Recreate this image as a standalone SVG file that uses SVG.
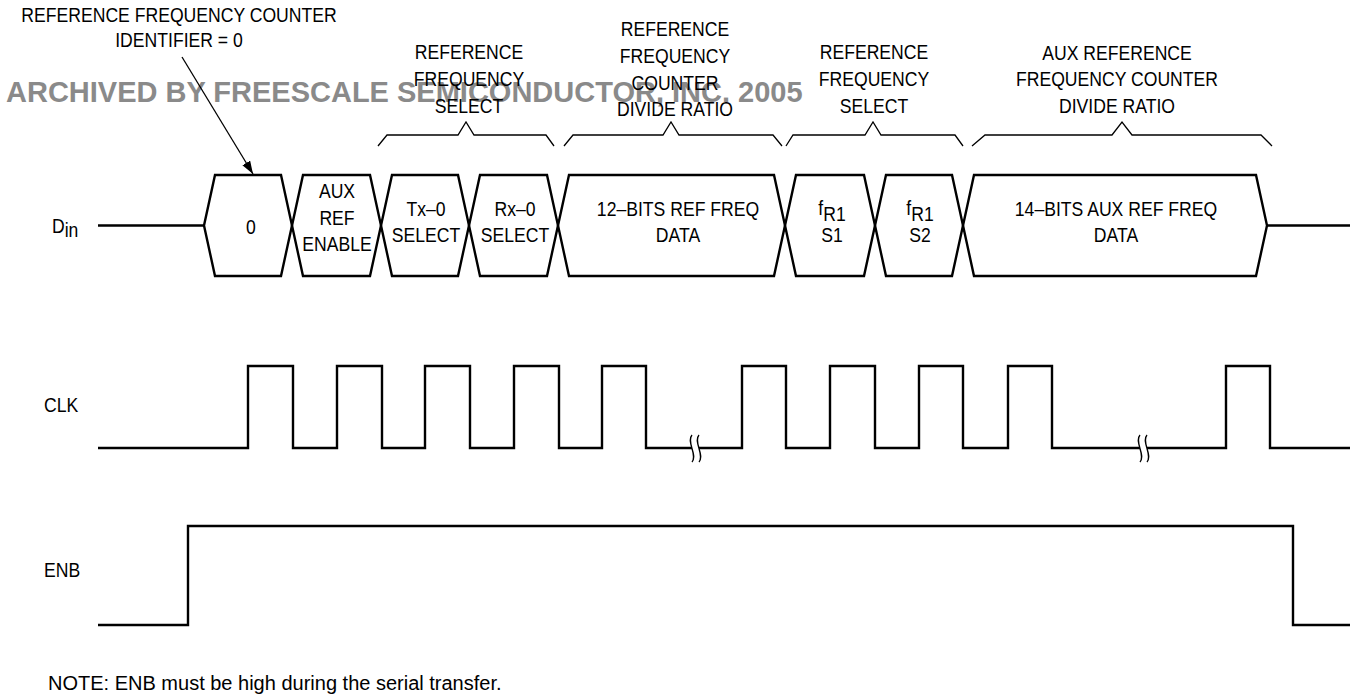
<svg xmlns="http://www.w3.org/2000/svg" width="1356" height="698" viewBox="0 0 1356 698">
<style>
.t{font-family:"Liberation Sans",Arial,Helvetica,sans-serif;font-size:20px;fill:#000}
.wm{font-family:"Liberation Sans",Arial,Helvetica,sans-serif;font-size:29px;font-weight:bold;fill:#8a8a8a}
.note{font-family:"Liberation Sans",Arial,Helvetica,sans-serif;font-size:20px;fill:#000}
.bus{fill:none;stroke:#000;stroke-width:2.4;stroke-linejoin:miter}
.wave{fill:none;stroke:#000;stroke-width:2.4}
.br{fill:none;stroke:#000;stroke-width:1.3}
.brk{fill:none;stroke:#000;stroke-width:1.3}
</style>
<defs>
<marker id="ah" markerUnits="userSpaceOnUse" markerWidth="14" markerHeight="10" refX="13" refY="4.5" orient="auto">
<path d="M0,0 L13,4.5 L0,9 z" fill="#000"/>
</marker>
</defs>
<rect width="1356" height="698" fill="#fff"/>

<text class="wm" x="6" y="102">ARCHIVED BY FREESCALE SEMICONDUCTOR, INC. 2005</text>

<g id="labels-left">
<text class="t" transform="translate(52,0) scale(.88 1)"><tspan x="0" y="233">D</tspan><tspan dy="4.5">in</tspan></text>
<text class="t" transform="translate(44,0) scale(.88 1)" x="0" y="412">CLK</text>
<text class="t" transform="translate(44,0) scale(.88 1)" x="0" y="577">ENB</text>
</g>

<g id="lbl-identifier">
<text class="t" text-anchor="middle" transform="translate(179,0) scale(.88 1)"><tspan x="0" y="22">REFERENCE FREQUENCY COUNTER</tspan><tspan x="0" y="47">IDENTIFIER = 0</tspan></text>
</g>
<g id="lbl-refsel1">
<text class="t" text-anchor="middle" transform="translate(469,0) scale(.88 1)"><tspan x="0" y="59">REFERENCE</tspan><tspan x="0" y="86">FREQUENCY</tspan><tspan x="0" y="113">SELECT</tspan></text>
<path class="br" d="M378,146 L387,135 H458 L466,122 L474,135 H546 L554,146"/>
</g>
<g id="lbl-divide">
<text class="t" text-anchor="middle" transform="translate(675,0) scale(.88 1)"><tspan x="0" y="36">REFERENCE</tspan><tspan x="0" y="63">FREQUENCY</tspan><tspan x="0" y="90">COUNTER</tspan><tspan x="0" y="116">DIVIDE RATIO</tspan></text>
<path class="br" d="M564,146 L573,135 H663 L671,122 L679,135 H773 L782,146"/>
</g>
<g id="lbl-refsel2">
<text class="t" text-anchor="middle" transform="translate(874,0) scale(.88 1)"><tspan x="0" y="59">REFERENCE</tspan><tspan x="0" y="86">FREQUENCY</tspan><tspan x="0" y="113">SELECT</tspan></text>
<path class="br" d="M786,146 L793,135 H865 L873,122 L881,135 H955 L963,146"/>
</g>
<g id="lbl-aux">
<text class="t" text-anchor="middle" transform="translate(1117,0) scale(.88 1)"><tspan x="0" y="60">AUX REFERENCE</tspan><tspan x="0" y="86">FREQUENCY COUNTER</tspan><tspan x="0" y="113">DIVIDE RATIO</tspan></text>
<path class="br" d="M972,146 L985,135 H1112 L1122,122 L1132,135 H1261 L1272,146"/>
</g>

<g id="din">
<path class="bus" d="M98,225.5 H204 M1267,225.5 H1350"/>
<g id="bit-id">
<polygon class="bus" points="204,225.5 215,175 281,175 292,225.5 281,276 215,276"/>
<text class="t" text-anchor="middle" transform="translate(251,0) scale(.88 1)" x="0" y="234">0</text>
</g>
<g id="bit-aux">
<polygon class="bus" points="292,225.5 303,175 370,175 381,225.5 370,276 303,276"/>
<text class="t" text-anchor="middle" transform="translate(337,0) scale(.88 1)"><tspan x="0" y="198">AUX</tspan><tspan x="0" y="225">REF</tspan><tspan x="0" y="251">ENABLE</tspan></text>
</g>
<g id="bit-tx">
<polygon class="bus" points="381,225.5 392,175 458,175 469,225.5 458,276 392,276"/>
<text class="t" text-anchor="middle" transform="translate(426,0) scale(.88 1)"><tspan x="0" y="216">Tx–0</tspan><tspan x="0" y="242">SELECT</tspan></text>
</g>
<g id="bit-rx">
<polygon class="bus" points="469,225.5 480,175 547,175 558,225.5 547,276 480,276"/>
<text class="t" text-anchor="middle" transform="translate(515,0) scale(.88 1)"><tspan x="0" y="216">Rx–0</tspan><tspan x="0" y="242">SELECT</tspan></text>
</g>
<g id="bits-12">
<polygon class="bus" points="558,225.5 569,175 774,175 785,225.5 774,276 569,276"/>
<text class="t" text-anchor="middle" transform="translate(678,0) scale(.88 1)"><tspan x="0" y="216">12–BITS REF FREQ</tspan><tspan x="0" y="242">DATA</tspan></text>
</g>
<g id="bit-s1">
<polygon class="bus" points="785,225.5 796,175 864,175 875,225.5 864,276 796,276"/>
<text class="t" text-anchor="middle" transform="translate(832,0) scale(.88 1)"><tspan x="0" y="215">f</tspan><tspan dy="6.5">R1</tspan></text>
<text class="t" text-anchor="middle" transform="translate(832,0) scale(.88 1)" x="0" y="242">S1</text>
</g>
<g id="bit-s2">
<polygon class="bus" points="875,225.5 886,175 952,175 963,225.5 952,276 886,276"/>
<text class="t" text-anchor="middle" transform="translate(920,0) scale(.88 1)"><tspan x="0" y="215">f</tspan><tspan dy="6.5">R1</tspan></text>
<text class="t" text-anchor="middle" transform="translate(920,0) scale(.88 1)" x="0" y="242">S2</text>
</g>
<g id="bits-14">
<polygon class="bus" points="963,225.5 974,175 1256,175 1267,225.5 1256,276 974,276"/>
<text class="t" text-anchor="middle" transform="translate(1116,0) scale(.88 1)"><tspan x="0" y="216">14–BITS AUX REF FREQ</tspan><tspan x="0" y="242">DATA</tspan></text>
</g>
</g>

<g id="connectors">
<line x1="182" y1="57" x2="253" y2="174" stroke="#000" stroke-width="1.3" marker-end="url(#ah)"/>
</g>

<g id="clk">
<path class="wave" d="M98,448 H248 V366 H293 V448 H337 V366 H382 V448 H425 V366 H470 V448 H514 V366 H559 V448 H602 V366 H646 V448 H692 M699,448 H742 V366 H786 V448 H830 V366 H875 V448 H919 V366 H963 V448 H1008 V366 H1052 V448 H1140 M1147,448 H1226 V366 H1270 V448 H1350"/>
<path class="brk" d="M692,435 C686,442 698,455 692,462 M699,435 C693,442 705,455 699,462 M1140,435 C1134,442 1146,455 1140,462 M1147,435 C1141,442 1153,455 1147,462"/>
</g>

<g id="enb">
<path class="wave" d="M98,625 H188 V526 H1293 V625 H1350"/>
</g>

<text class="note" x="48" y="690">NOTE: ENB must be high during the serial transfer.</text>
</svg>
